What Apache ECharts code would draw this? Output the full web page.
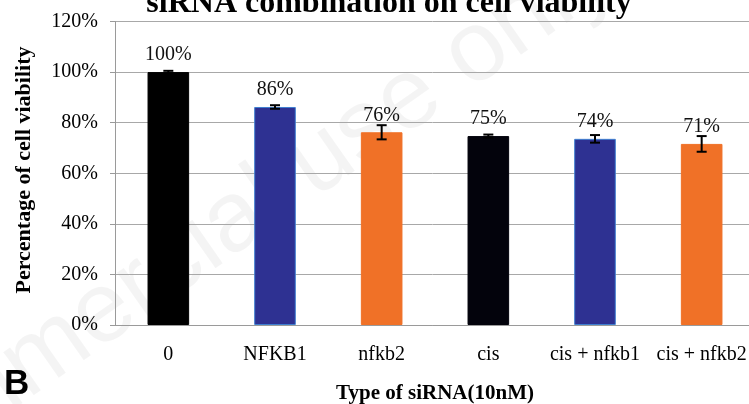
<!DOCTYPE html>
<html><head><meta charset="utf-8">
<script src="https://cdn.jsdelivr.net/npm/echarts@6/dist/echarts.min.js"></script>
<style>html,body{margin:0;padding:0;background:#fff}#c{width:749px;height:404px}</style>
</head><body><div id="c"></div>
<script>
const categories = ['0', 'NFKB1', 'nfkb2', 'cis', 'cis + nfkb1', 'cis + nfkb2'];
const viability = [100, 86.2, 76.2, 74.7, 73.6, 71.6];
const errors = [0.5, 0.7, 2.8, 0.6, 1.5, 3.1];
const valueLabels = ['100%', '86%', '76%', '75%', '74%', '71%'];
const barColors = ['#000000', '#2e3192', '#f07127', '#03030c', '#2e3192', '#f07127'];
const yTicks = [0, 20, 40, 60, 80, 100, 120];

const serif = '"Liberation Serif", "DejaVu Serif", serif';
const chart = echarts.init(document.getElementById('c'), null, {renderer: 'canvas'});
chart.setOption({
  animation: false,
  backgroundColor: '#fff',
  grid: {left: 115, top: 21.5, width: 640, height: 303.5, outerBoundsMode: 'none', containLabel: false},
  xAxis: {
    type: 'category', data: categories,
    axisLine: {lineStyle: {color: '#9a9a9a', width: 1}},
    axisTick: {show: false},
    axisLabel: {color: '#000', fontFamily: serif, fontSize: 20, margin: 20, interval: 0}
  },
  yAxis: {
    type: 'value', min: 0, max: 120, interval: 20,
    axisLine: {show: true, lineStyle: {color: '#9a9a9a'}},
    axisTick: {show: true, length: 5, lineStyle: {color: '#9a9a9a'}},
    splitLine: {lineStyle: {color: '#a8a8a8', width: 1}},
    axisLabel: {color: '#000', fontFamily: serif, fontSize: 20, margin: 17,
      formatter: v => yTicks.includes(v) ? v + '%' : ''}
  },
  series: [
    {
      type: 'bar', barWidth: '39%',
      data: viability.map((v, i) => ({value: v, itemStyle: {color: barColors[i],
        borderColor: barColors[i] === '#2e3192' ? '#3f7fd0' : barColors[i], borderWidth: 1}})),
      label: {show: true, position: 'top', distance: 7, color: '#111', fontFamily: serif, fontSize: 20,
        formatter: p => valueLabels[p.dataIndex]}
    },
    {
      type: 'custom',
      data: viability.map((v, i) => [i, v - errors[i], v + errors[i]]),
      renderItem: function (params, api) {
        const x = api.coord([api.value(0), 0])[0];
        const lo = api.coord([api.value(0), api.value(1)])[1];
        const hi = api.coord([api.value(0), api.value(2)])[1];
        const w = 5;
        const st = {stroke: '#000', lineWidth: 2};
        return {type: 'group', children: [
          {type: 'line', shape: {x1: x, y1: lo, x2: x, y2: hi}, style: st},
          {type: 'line', shape: {x1: x - w, y1: lo, x2: x + w, y2: lo}, style: st},
          {type: 'line', shape: {x1: x - w, y1: hi, x2: x + w, y2: hi}, style: st}
        ]};
      },
      z: 5
    }
  ],
  graphic: [
    {type: 'text', x: 389, y: 20, style: {text: 'siRNA combination on cell viability',
      fontFamily: serif, fontWeight: 'bold', fontSize: 32, fill: '#000', align: 'center', verticalAlign: 'bottom'}},
    {type: 'text', x: 24, y: 170, rotation: Math.PI / 2, style: {text: 'Percentage of cell viability',
      fontFamily: serif, fontWeight: 'bold', fontSize: 22, fill: '#000', align: 'center', verticalAlign: 'middle'}},
    {type: 'text', x: 435, y: 394, style: {text: 'Type of siRNA(10nM)',
      fontFamily: serif, fontWeight: 'bold', fontSize: 21, fill: '#000', align: 'center', verticalAlign: 'middle'}},
    {type: 'text', x: 4, y: 384, style: {text: 'B', fontFamily: '"Liberation Sans", Arial, sans-serif',
      fontWeight: 'bold', fontSize: 35, fill: '#000', align: 'left', verticalAlign: 'middle'}},
    {type: 'text', x: 142, y: 286, rotation: 0.61, z: -10, style: {text: 'Non-commercial use only',
      fontFamily: '"Liberation Sans", Arial, sans-serif', fontSize: 100, fill: 'rgba(0,0,0,0.045)',
      align: 'center', verticalAlign: 'middle'}}
  ]
});
</script></body></html>
